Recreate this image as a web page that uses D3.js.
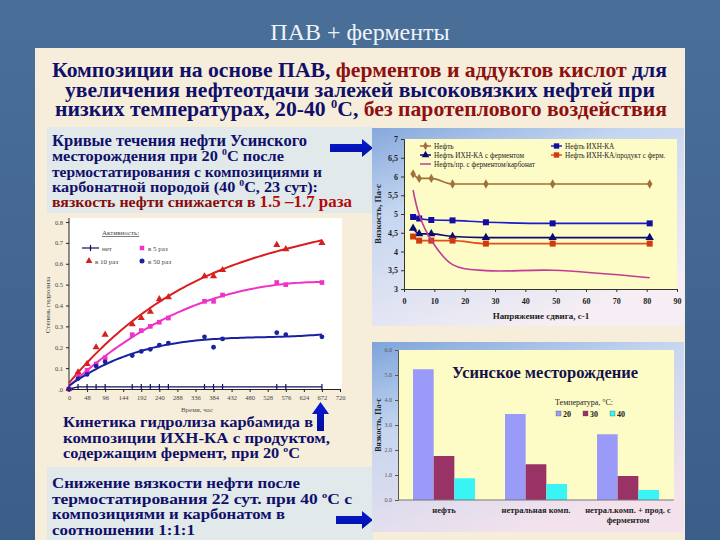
<!DOCTYPE html>
<html><head><meta charset="utf-8">
<script src="https://cdn.jsdelivr.net/npm/d3@7"></script>
<style>body{margin:0;background:#40648E} svg{display:block}</style>
</head><body><svg id="c" width="720" height="540"></svg>
<script>
// ---------- DATA ----------
// top-right: flow curves (viscosity vs shear)
const flowX = [3, 5, 9, 16, 27, 49, 81];
const flowOil = [6.07, 5.95, 5.95, 5.80, 5.80, 5.80, 5.80];
const flowIHN = [4.92, 4.88, 4.84, 4.83, 4.78, 4.75, 4.75];
const flowIHNFerm = [4.62, 4.47, 4.47, 4.40, 4.37, 4.37, 4.37];
const flowIHNProd = [4.40, 4.29, 4.29, 4.29, 4.21, 4.21, 4.21];
const flowCarb = [5.64, 4.98, 4.30, 3.65, 3.49, 3.50, 3.30];
const flowNames = ["Нефть", "Нефть ИХН-КА", "Нефть ИХН-КА с ферментом", "Нефть ИХН-КА/продукт с ферм.", "Нефть/пр. с ферментом/карбонат"];
const flowYTicks = [3, 3.5, 4, 4.5, 5, 5.5, 6, 6.5, 7];
const flowXTicks = [0, 10, 20, 30, 40, 50, 60, 70, 80, 90];

// left: urea hydrolysis kinetics
const hours = [0, 24, 48, 72, 96, 168, 192, 216, 240, 264, 360, 384, 408, 552, 576, 672];
const hydNone = [0.00, 0.01, 0.01, 0.01, 0.01, 0.01, 0.01, 0.01, 0.01, 0.01, 0.01, 0.01, 0.01, 0.01, 0.01, 0.01];
const hyd5 = [0.00, 0.07, 0.09, 0.12, 0.15, 0.26, 0.28, 0.30, 0.32, 0.34, 0.42, 0.42, 0.45, 0.51, 0.50, 0.51];
const hyd10 = [0.00, 0.08, 0.12, 0.20, 0.26, 0.31, 0.34, 0.37, 0.43, 0.44, 0.54, 0.54, 0.57, 0.69, 0.67, 0.70];
const hyd50 = [0.00, 0.05, 0.07, 0.11, 0.13, 0.16, 0.18, 0.19, 0.21, 0.22, 0.25, 0.20, 0.24, 0.27, 0.26, 0.25];
const hydNames = ["нет", "в 5 раз", "в 10 раз", "в 50 раз"];
const hydXTicks = [0, 48, 96, 144, 192, 240, 288, 336, 384, 432, 480, 528, 576, 624, 672, 720];
const hydYTicks = [0, 0.1, 0.2, 0.3, 0.4, 0.5, 0.6, 0.7, 0.8];

// bottom-right: viscosity bars
const barCats = ["нефть", "нетральная комп.", "нетрал.комп. + прод. с ферментом"];
const barTemps = ["20", "30", "40"];
const bar20 = [5.23, 3.44, 2.63];
const bar30 = [1.76, 1.43, 0.96];
const bar40 = [0.87, 0.64, 0.40];
const barYTicks = [0, 1, 2, 3, 4, 5, 6];

// ---------- DRAW ----------
const svg = d3.select("#c");
const SERIF = "Liberation Serif, Times New Roman, DejaVu Serif, serif";
const NAVY = "#10106a", DRED = "#8e1010";
const defs = svg.append("defs");

function lg(id, stops, x2, y2) {
  const g = defs.append("linearGradient").attr("id", id).attr("x1", 0).attr("y1", 0).attr("x2", x2).attr("y2", y2);
  stops.forEach(s => g.append("stop").attr("offset", s[0]).attr("stop-color", s[1]));
}
lg("bgSlide", [[0, "#4a6f98"], [1, "#3a5e88"]], 0, 1);
lg("chartBg", [[0, "#86a8dc"], [0.35, "#c4d6f0"], [1, "#f6eef4"]], 0.55, 1);
lg("chartBg2", [[0, "#7ea4da"], [0.4, "#c6d6f0"], [1, "#f3e2ec"]], 0.5, 1);
lg("arrowG", [[0, "#0a1ad8"], [1, "#0010a0"]], 0, 1);

svg.append("rect").attr("width", 720).attr("height", 540).attr("fill", "url(#bgSlide)");
svg.append("text").attr("x", 360).attr("y", 40).attr("text-anchor", "middle")
  .attr("font-family", SERIF).attr("font-size", 24).attr("fill", "#eef4fa").text("ПАВ + ферменты");

// panel
svg.append("rect").attr("x", 35).attr("y", 48).attr("width", 650).attr("height", 492).attr("fill", "#f6eedb");

// heading
const head = svg.append("g").attr("font-family", SERIF).attr("font-weight", "bold").attr("font-size", 21).attr("text-anchor", "middle");
const hl = [
  {w: 615, cx: 359.5, parts: [["Композиции на основе ПАВ, ", NAVY], ["ферментов и аддуктов кислот", DRED], [" для", NAVY]]},
  {w: 590, cx: 360, parts: [["увеличения нефтеотдачи залежей высоковязких нефтей при", NAVY]]},
  {w: 612, cx: 361, parts: [["низких температурах, 20-40 ", NAVY], ["0", NAVY, true], ["С, ", NAVY], ["без паротеплового воздействия", DRED]]}
];
hl.forEach((ln, i) => {
  const t = head.append("text").attr("x", ln.cx).attr("y", 77 + i * 19.5)
    .attr("textLength", ln.w).attr("lengthAdjust", "spacingAndGlyphs");
  ln.parts.forEach(p => {
    const ts = t.append("tspan").attr("fill", p[1]).text(p[0]);
    if (p[2]) ts.attr("font-size", 12).attr("dy", -8);
    else if (p[0] === "С, ") ts.attr("dy", 8);
  });
});

// text boxes
svg.append("rect").attr("x", 47).attr("y", 127).attr("width", 326).attr("height", 86).attr("fill", "#e1e9ea");
svg.append("rect").attr("x", 47).attr("y", 467).attr("width", 326).attr("height", 73).attr("fill", "#e1e9ea");

function textBlock(x, y0, dy, lines) {
  const g = svg.append("g").attr("font-family", SERIF).attr("font-weight", "bold");
  lines.forEach((ln, i) => {
    const t = g.append("text").attr("x", x).attr("y", y0 + i * dy).attr("font-size", ln.size || 15)
      .attr("textLength", ln.w).attr("lengthAdjust", "spacingAndGlyphs");
    ln.parts.forEach(p => {
      const ts = t.append("tspan").attr("fill", p.c || NAVY).text(p.t);
      if (p.s) ts.attr("font-size", p.s);
      if (p.dy) ts.attr("dy", p.dy);
    });
  });
}
textBlock(52, 146, 15.3, [
  {size: 16, w: 255, parts: [{t: "Кривые течения нефти Усинского"}]},
  {w: 232, parts: [{t: "месторождения при 20 "}, {t: "0", s: 9, dy: -6}, {t: "С после", dy: 6}]},
  {w: 270, parts: [{t: "термостатирования с композициями и"}]},
  {w: 266, parts: [{t: "карбонатной породой (40 "}, {t: "0", s: 9, dy: -6}, {t: "С, 23 сут):", dy: 6}]},
  {w: 300, parts: [{t: "вязкость нефти снижается в ", c: "#8a0c0c"}, {t: "1.5 –1.7 раза", c: "#b40a0a", s: 16}]}
]);
textBlock(63, 427, 15.5, [
  {w: 250, parts: [{t: "Кинетика гидролиза карбамида в"}]},
  {w: 267, parts: [{t: "композиции ИХН-КА с продуктом,"}]},
  {w: 237, parts: [{t: "содержащим фермент, при 20 "}, {t: "о", s: 9, dy: -6}, {t: "С", dy: 6}]}
]);
textBlock(52, 488, 15.5, [
  {w: 248, parts: [{t: "Снижение вязкости нефти после"}]},
  {w: 300, parts: [{t: "термостатирования 22 сут. при 40 "}, {t: "о", s: 9, dy: -6}, {t: "С с", dy: 6}]},
  {w: 233, parts: [{t: "композициями и карбонатом в"}]},
  {w: 143, parts: [{t: "соотношении 1:1:1"}]}
]);

// arrows
function arrowRight(x0, x1, y) {
  svg.append("path").attr("fill", "url(#arrowG)")
    .attr("d", `M${x0},${y - 4}H${x1 - 11}V${y - 9}L${x1},${y}L${x1 - 11},${y + 9}V${y + 4}H${x0}Z`);
}
arrowRight(330, 373, 148);
arrowRight(336, 373, 520);
svg.append("path").attr("fill", "url(#arrowG)")
  .attr("d", "M317,431V414H312L320.5,402L329,414H324V431Z");

// ===== top-right flow chart =====
{
  const g = svg.append("g");
  g.append("rect").attr("x", 372).attr("y", 128).attr("width", 312).attr("height", 198).attr("fill", "url(#chartBg)");
  const x = d3.scaleLinear().domain([0, 90]).range([404, 677]);
  const y = d3.scaleLinear().domain([3, 7]).range([289, 139]);
  g.append("rect").attr("x", 404).attr("y", 139).attr("width", 273).attr("height", 150).attr("fill", "#fdfbc6");
  const fmt = d => String(d).replace(".", ",");
  const ya = g.append("g").attr("transform", "translate(404,0)")
    .call(d3.axisLeft(y).tickValues(flowYTicks).tickSize(3).tickFormat(fmt));
  const xa = g.append("g").attr("transform", "translate(0,289)")
    .call(d3.axisBottom(x).tickValues(flowXTicks).tickSize(3));
  [ya, xa].forEach(a => {
    a.selectAll("path,line").attr("stroke", "#333");
    a.selectAll("text").attr("font-family", SERIF).attr("font-weight", "bold").attr("font-size", 8).attr("fill", "#222");
  });
  xa.selectAll("text").attr("dy", "1.1em");
  g.append("text").attr("x", 541).attr("y", 319).attr("text-anchor", "middle").attr("font-family", SERIF)
    .attr("font-weight", "bold").attr("font-size", 9).attr("fill", "#222").text("Напряжение сдвига, с-1");
  g.append("text").attr("transform", "translate(381,214) rotate(-90)").attr("text-anchor", "middle").attr("font-family", SERIF)
    .attr("font-weight", "bold").attr("font-size", 9).attr("fill", "#222").text("Вязкость, Па·с");

  const series = [
    {v: flowOil, c: "#a0713a", m: "diamond", curve: d3.curveMonotoneX},
    {v: flowIHN, c: "#1a1ad0", m: "square", mc: "#1010a0", curve: d3.curveMonotoneX},
    {v: flowIHNFerm, c: "#0a0a70", m: "triangle", curve: d3.curveMonotoneX},
    {v: flowIHNProd, c: "#e2501c", m: "square", mc: "#d03a10", curve: d3.curveMonotoneX},
    {v: flowCarb, c: "#c23c94", m: null, curve: d3.curveCatmullRom}
  ];
  const sym = {diamond: d3.symbolDiamond, square: d3.symbolSquare, triangle: d3.symbolTriangle};
  const size = {diamond: 26, square: 36, triangle: 30};
  series.forEach(s => {
    const pts = flowX.map((xv, i) => [x(xv), y(s.v[i])]);
    g.append("path").attr("d", d3.line().curve(s.curve)(pts)).attr("fill", "none")
      .attr("stroke", s.c).attr("stroke-width", 1.6);
    if (s.m) pts.forEach(p => g.append("path").attr("d", d3.symbol(sym[s.m], size[s.m])())
      .attr("transform", `translate(${p[0]},${p[1]})`).attr("fill", s.mc || s.c));
  });
  // legend
  const leg = [
    [0, 420, 146], [1, 551, 146], [2, 420, 155], [3, 551, 155], [4, 420, 164]
  ];
  leg.forEach(([i, lx, ly]) => {
    const s = series[i];
    g.append("line").attr("x1", lx).attr("x2", lx + 11).attr("y1", ly).attr("y2", ly).attr("stroke", s.c).attr("stroke-width", 1.5);
    if (s.m) g.append("path").attr("d", d3.symbol(sym[s.m], size[s.m] * 0.8)()).attr("transform", `translate(${lx + 5.5},${ly})`).attr("fill", s.mc || s.c);
    g.append("text").attr("x", lx + 14).attr("y", ly + 2.5).attr("font-family", SERIF).attr("font-size", 7.2)
      .attr("fill", "#222").text(flowNames[i]);
  });
}

// ===== left hydrolysis chart =====
{
  const g = svg.append("g");
  const x = d3.scaleLinear().domain([0, 720]).range([69, 340]);
  const y = d3.scaleLinear().domain([0, 0.8]).range([389, 222]);
  g.append("rect").attr("x", 69).attr("y", 218).attr("width", 273).attr("height", 171).attr("fill", "#ffffff");
  const ya = g.append("g").attr("transform", "translate(69,0)")
    .call(d3.axisLeft(y).tickValues(hydYTicks).tickSize(3).tickFormat(d => d === 0 ? ".0" : d3.format(".1f")(d)));
  const xa = g.append("g").attr("transform", "translate(0,389)")
    .call(d3.axisBottom(x).tickValues(hydXTicks).tickSize(3));
  [ya, xa].forEach(a => {
    a.selectAll("path,line").attr("stroke", "#222");
    a.selectAll("text").attr("font-family", SERIF).attr("font-size", 6.5).attr("fill", "#444");
  });
  ya.select(".domain").attr("d", "M-3,389H0V218");
  g.append("text").attr("x", 197).attr("y", 412).attr("text-anchor", "middle").attr("font-family", SERIF)
    .attr("font-size", 7).attr("fill", "#555").text("Время, час");
  g.append("text").attr("transform", "translate(50,305) rotate(-90)").attr("text-anchor", "middle").attr("font-family", SERIF)
    .attr("font-size", 7).attr("fill", "#444").text("Степень гидролиза");

  function polyfit(xs, ys, deg) {
    const n = deg + 1, A = Array.from({length: n}, () => new Array(n + 1).fill(0));
    xs.forEach((xv, k) => {
      const t = xv / 100;
      for (let i = 0; i < n; i++) {
        for (let j = 0; j < n; j++) A[i][j] += Math.pow(t, i + j);
        A[i][n] += ys[k] * Math.pow(t, i);
      }
    });
    for (let i = 0; i < n; i++) {
      let p = i; for (let r = i + 1; r < n; r++) if (Math.abs(A[r][i]) > Math.abs(A[p][i])) p = r;
      [A[i], A[p]] = [A[p], A[i]];
      for (let r = 0; r < n; r++) if (r !== i) { const f = A[r][i] / A[i][i]; for (let c = i; c <= n; c++) A[r][c] -= f * A[i][c]; }
    }
    const co = A.map((row, i) => row[n] / row[i]);
    return xv => co.reduce((s, c, i) => s + c * Math.pow(xv / 100, i), 0);
  }
  const hs = [
    {v: hydNone, c: "#101060", m: "plus", fit: false},
    {v: hyd5, c: "#f032c8", m: "square", fit: true},
    {v: hyd10, c: "#d81e1e", m: "triangle", fit: true},
    {v: hyd50, c: "#1a22a0", m: "circle", fit: true}
  ];
  const sym = {plus: d3.symbolCross, square: d3.symbolSquare, triangle: d3.symbolTriangle, circle: d3.symbolCircle};
  hs.forEach(s => {
    if (s.fit) {
      const f = polyfit(hours, s.v, 3);
      const xs = d3.range(0, 673, 8);
      g.append("path").attr("d", d3.line()(xs.map(h => [x(h), y(f(h))]))).attr("fill", "none")
        .attr("stroke", s.c).attr("stroke-width", 2);
    } else {
      g.append("path").attr("d", d3.line()(hours.map((h, i) => [x(h), y(s.v[i])]))).attr("fill", "none")
        .attr("stroke", s.c).attr("stroke-width", 1.3);
    }
  });
  hs.forEach(s => {
    hours.forEach((h, i) => {
      if (s.m === "plus") {
        g.append("path").attr("d", `M${x(h)},${y(s.v[i]) - 3}V${y(s.v[i]) + 3}`).attr("stroke", s.c).attr("stroke-width", 1.2);
      } else {
        g.append("path").attr("d", d3.symbol(sym[s.m], s.m === "circle" ? 18 : 22)())
          .attr("transform", `translate(${x(h)},${y(s.v[i])})`).attr("fill", s.c);
      }
    });
  });
  // legend
  g.append("text").attr("x", 102).attr("y", 235).attr("font-family", SERIF).attr("font-size", 7)
    .attr("fill", "#444").attr("text-decoration", "underline").text("Активность:");
  const L = [[0, 82, 248], [1, 137, 248], [2, 84, 261], [3, 137, 261]];
  L.forEach(([i, lx, ly]) => {
    const s = hs[i];
    if (i === 0) {
      g.append("line").attr("x1", lx).attr("x2", lx + 17).attr("y1", ly).attr("y2", ly).attr("stroke", s.c).attr("stroke-width", 1.2);
      g.append("path").attr("d", `M${lx + 8.5},${ly - 3}V${ly + 3}`).attr("stroke", s.c).attr("stroke-width", 1.2);
    } else {
      g.append("path").attr("d", d3.symbol(sym[s.m], 20)()).attr("transform", `translate(${lx + 5},${ly})`).attr("fill", s.c);
    }
    g.append("text").attr("x", i === 0 ? lx + 20 : lx + 11).attr("y", ly + 2.5).attr("font-family", SERIF)
      .attr("font-size", 7).attr("fill", "#444").text(hydNames[i]);
  });
}

// ===== bottom-right bar chart =====
{
  const g = svg.append("g");
  g.append("rect").attr("x", 372).attr("y", 342).attr("width", 312).attr("height", 190).attr("fill", "url(#chartBg2)");
  g.append("rect").attr("x", 398).attr("y", 350).attr("width", 276).attr("height", 150).attr("fill", "#fdfbc6");
  const x0 = d3.scaleBand().domain(barCats).range([398, 674]).paddingInner(0.326).paddingOuter(0.163);
  const x1 = d3.scaleBand().domain(barTemps).range([0, x0.bandwidth()]);
  const y = d3.scaleLinear().domain([0, 6]).range([500, 350]);
  const cols = {"20": "#9a9af8", "30": "#993366", "40": "#38f4f4"};
  const vals = {"20": bar20, "30": bar30, "40": bar40};
  barCats.forEach((c, ci) => {
    barTemps.forEach(t => {
      g.append("rect").attr("x", x0(c) + x1(t)).attr("width", x1.bandwidth())
        .attr("y", y(vals[t][ci])).attr("height", 500 - y(vals[t][ci])).attr("fill", cols[t]);
    });
  });
  const ya = g.append("g").attr("transform", "translate(398,0)")
    .call(d3.axisLeft(y).tickValues(barYTicks).tickSize(3));
  ya.selectAll("path,line").attr("stroke", "#555");
  ya.selectAll("text").attr("font-family", SERIF).attr("font-size", 6).attr("fill", "#555");
  g.append("line").attr("x1", 398).attr("x2", 674).attr("y1", 500).attr("y2", 500).attr("stroke", "#777");
  g.append("text").attr("transform", "translate(381,425) rotate(-90)").attr("text-anchor", "middle").attr("font-family", SERIF)
    .attr("font-weight", "bold").attr("font-size", 8).attr("fill", "#222").text("Вязкость, Па·с");
  g.append("text").attr("x", 545).attr("y", 378).attr("text-anchor", "middle").attr("font-family", SERIF)
    .attr("font-weight", "bold").attr("font-size", 16.5).attr("fill", "#14124a").text("Усинское месторождение");
  g.append("text").attr("x", 555).attr("y", 405).attr("font-family", SERIF).attr("font-size", 8).attr("fill", "#222").text("Температура, °С:");
  barTemps.forEach((t, i) => {
    const lx = 556 + i * 27;
    g.append("rect").attr("x", lx).attr("y", 411).attr("width", 5).attr("height", 5).attr("fill", cols[t]).attr("stroke", "#444").attr("stroke-width", 0.3);
    g.append("text").attr("x", lx + 7).attr("y", 416.5).attr("font-family", SERIF).attr("font-weight", "bold")
      .attr("font-size", 8).attr("fill", "#222").text(t);
  });
  barCats.forEach(c => {
    const t = g.append("text").attr("text-anchor", "middle").attr("font-family", SERIF).attr("font-weight", "bold")
      .attr("font-size", 8.5).attr("fill", "#222");
    const words = c.split(" ");
    let line = [], lines = [];
    const probe = g.append("text").attr("font-family", SERIF).attr("font-weight", "bold").attr("font-size", 8.5);
    words.forEach(w => {
      probe.text([...line, w].join(" "));
      if (probe.node().getComputedTextLength() > 92 && line.length) { lines.push(line.join(" ")); line = [w]; }
      else line.push(w);
    });
    lines.push(line.join(" "));
    probe.remove();
    lines.forEach((l, i) => t.append("tspan").attr("x", x0(c) + x0.bandwidth() / 2).attr("y", 513 + i * 10).text(l));
  });
}
</script></body></html>
